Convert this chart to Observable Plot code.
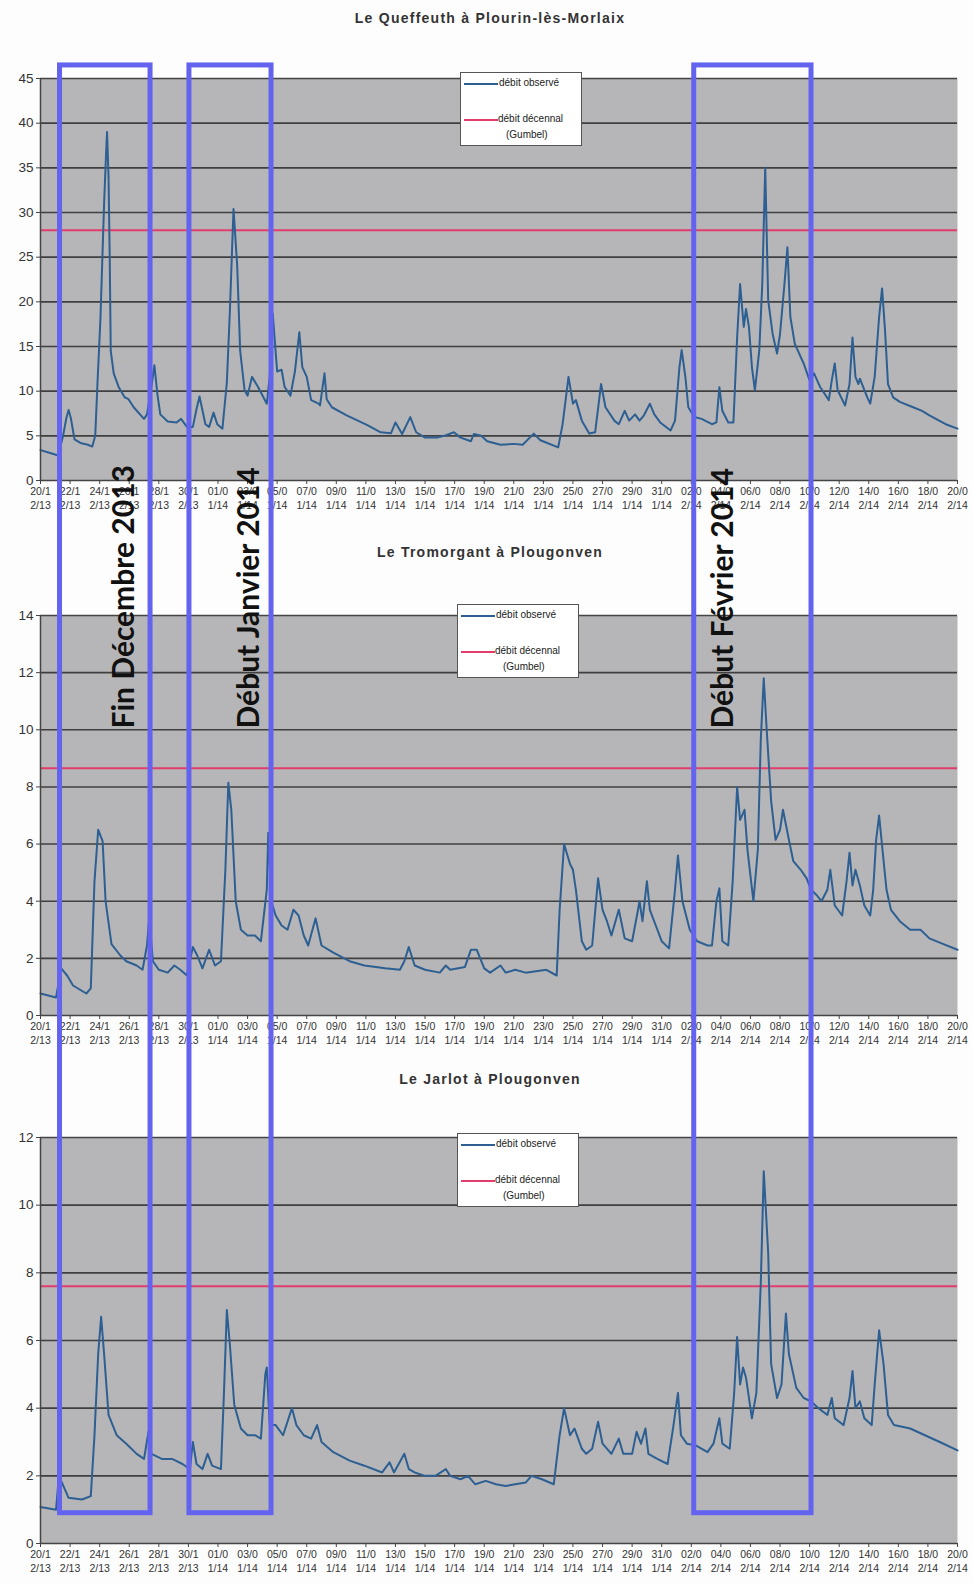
<!DOCTYPE html>
<html><head><meta charset="utf-8">
<script src="https://cdn.jsdelivr.net/npm/d3@7"></script>
<script src="https://cdn.jsdelivr.net/npm/@observablehq/plot@0.6"></script>
<style>
body{margin:0;background:#fff;}
#page{position:relative;width:973px;height:1584px;overflow:hidden;font-family:"Liberation Sans",Arial,sans-serif;background:#fdfdfd;}
.title{position:absolute;left:0;width:980px;text-align:center;font-weight:bold;font-size:14px;letter-spacing:1.25px;color:#333;}
.panel{position:absolute;left:0;}
.legend{position:absolute;background:#fff;border:1px solid #555;width:120px;height:72px;font-size:10px;color:#222;}
.legend svg{position:absolute;left:0;top:0;}
.legend span{position:absolute;white-space:nowrap;}
#overlay{position:absolute;left:0;top:0;pointer-events:none;}
</style></head><body><div id="page"></div>
<script>
// ---------- DATA ----------
const startDay = Date.UTC(2013, 11, 20);   // 20/12/2013
const endDay = Date.UTC(2014, 1, 20);      // 20/02/2014
const seriesName = "débit observé";
const thresholdName = "débit décennal";
const thresholdNote = "(Gumbel)";

const riverTitles = ["Le Queffeuth à Plourin-lès-Morlaix", "Le Tromorgant à Plougonven", "Le Jarlot à Plougonven"];
const decennialFlow = [28, 8.65, 7.6];
const yMaxima = [45, 14, 12];
const yTickSteps = [5, 2, 2];

// days since 20/12/2013 and observed flow (m3/s)
const queffeuthDays = [0,0.6,1.2,1.5,1.75,1.9,2.05,2.3,2.7,3.2,3.5,3.7,3.85,4.05,4.3,4.42,4.5,4.6,4.68,4.75,4.95,5.3,5.7,5.95,6.3,7.0,7.2,7.5,7.7,7.9,8.1,8.6,9.2,9.5,9.9,10.3,10.55,10.75,11.15,11.4,11.7,11.95,12.3,12.6,12.8,13.05,13.3,13.5,13.8,14.0,14.3,14.7,15.3,15.5,15.7,16.0,16.3,16.5,16.9,17.2,17.5,17.7,18.0,18.3,18.8,18.9,19.2,19.35,19.7,20.7,22.1,23.0,23.7,24.0,24.45,25.0,25.4,26.0,26.8,27.3,27.95,28.4,29.1,29.3,29.8,30.2,31.1,32.0,32.6,33.35,33.8,35.0,35.3,35.7,36.0,36.2,36.6,37.1,37.5,37.9,38.2,38.8,39.1,39.5,39.8,40.2,40.5,40.8,41.2,41.5,41.9,42.6,42.9,43.2,43.35,43.6,43.8,44.2,44.7,45.4,45.7,45.9,46.1,46.5,46.85,47.1,47.3,47.55,47.7,47.9,48.1,48.3,48.6,48.8,49.0,49.2,49.5,49.8,50.0,50.3,50.5,50.7,51.0,51.6,52.0,52.3,52.7,53.3,53.5,53.7,53.9,54.4,54.7,54.9,55.1,55.3,55.4,55.9,56.1,56.4,56.7,56.9,57.1,57.3,57.65,58.1,59.0,59.6,60.1,61.2,62.0];
const queffeuthFlow = [3.4,3.1,2.8,4.8,7.0,7.9,7.0,4.6,4.2,4.0,3.8,5.0,10.8,18,31,36,39,34,25,14.5,12,10.4,9.3,9.1,8.2,6.9,7.4,10.5,12.9,9.7,7.4,6.6,6.5,6.9,6.0,6.0,8.0,9.4,6.3,6.0,7.6,6.3,5.8,11.0,18.8,30.4,24,14.5,10.1,9.5,11.6,10.5,8.6,11.6,18.7,12.2,12.4,10.5,9.5,12.2,16.6,12.7,11.6,9.0,8.6,8.4,12.0,9.1,8.2,7.3,6.2,5.4,5.3,6.5,5.2,7.1,5.4,4.8,4.8,5.0,5.4,4.8,4.4,5.2,5.0,4.4,4.0,4.1,4.0,5.25,4.5,3.7,6.3,11.6,8.6,9.0,6.7,5.25,5.4,10.8,8.2,6.7,6.3,7.8,6.7,7.4,6.7,7.3,8.6,7.4,6.5,5.6,6.7,12.7,14.6,11.6,8.2,7.1,6.9,6.3,6.5,10.45,7.8,6.5,6.5,16.0,22.0,17.2,19.2,17.2,12.7,10.1,14.6,22,35.0,20.2,16.4,14.2,16.4,22,26.1,18.3,15.3,13.1,11.2,12.0,10.5,9.0,11.2,13.1,10.1,8.4,10.8,16.0,11.6,10.8,11.4,9.3,8.6,11.6,18.3,21.5,16.8,10.8,9.3,8.8,8.2,7.8,7.3,6.3,5.8];

const tromorgantDays = [0,1.05,1.4,1.8,2.2,3.1,3.4,3.65,3.9,4.2,4.4,4.8,5.4,5.8,6.5,6.9,7.2,7.35,7.6,8.0,8.6,9.05,9.45,9.9,10.3,10.6,10.95,11.4,11.8,12.2,12.5,12.7,12.9,13.2,13.55,14.0,14.5,14.9,15.3,15.4,15.6,15.9,16.3,16.7,17.1,17.45,17.8,18.1,18.6,19.0,19.8,20.9,21.9,23.3,24.3,24.6,24.9,25.3,26.0,27.0,27.4,27.7,28.7,29.1,29.5,30.0,30.4,31.1,31.45,32.1,32.8,34.2,34.9,35.1,35.4,35.8,36.0,36.2,36.6,36.9,37.3,37.7,38.0,38.3,38.6,39.1,39.5,40.0,40.4,40.5,40.7,41.0,41.2,41.6,42.0,42.5,42.9,43.1,43.4,43.9,44.4,45.1,45.4,45.7,45.9,46.1,46.5,46.8,47.1,47.3,47.6,47.8,48.2,48.5,48.7,48.9,49.1,49.4,49.7,50.0,50.2,50.6,50.9,51.4,51.8,52.1,52.5,52.8,53.2,53.4,53.7,54.2,54.5,54.7,54.9,55.1,55.4,55.7,56.1,56.3,56.5,56.7,56.9,57.2,57.5,58.1,58.8,59.5,60.1,60.8,62.0];
const tromorgantFlow = [0.77,0.63,1.65,1.4,1.05,0.77,0.95,4.7,6.5,6.1,4.0,2.5,2.1,1.9,1.75,1.6,2.45,3.4,1.9,1.6,1.5,1.75,1.6,1.4,2.4,2.1,1.65,2.3,1.75,1.9,5.1,8.15,7.2,4.0,3.0,2.8,2.8,2.6,4.4,6.4,4.0,3.5,3.15,3.0,3.7,3.5,2.8,2.45,3.4,2.45,2.2,1.9,1.75,1.65,1.6,1.9,2.4,1.75,1.6,1.5,1.75,1.6,1.7,2.3,2.3,1.65,1.5,1.75,1.5,1.6,1.5,1.6,1.4,3.7,6.0,5.3,5.1,4.4,2.6,2.3,2.45,4.8,3.7,3.3,2.8,3.7,2.7,2.6,3.7,4.0,3.3,4.7,3.7,3.15,2.6,2.35,4.4,5.6,4.0,3.0,2.6,2.45,2.45,4.0,4.45,2.6,2.45,4.7,8.0,6.85,7.2,5.8,4.0,5.8,9.65,11.8,10.0,7.5,6.15,6.5,7.2,6.15,5.4,5.1,4.8,4.4,4.2,4.0,4.4,5.1,3.85,3.5,4.7,5.7,4.55,5.1,4.55,3.85,3.5,4.4,6.15,7.0,5.95,4.4,3.7,3.3,3.0,3.0,2.7,2.55,2.3];

const jarlotDays = [0,1.05,1.25,1.5,1.9,2.8,3.4,3.65,3.9,4.1,4.3,4.6,5.15,5.8,6.5,7.0,7.3,7.5,8.2,8.9,9.6,10.1,10.3,10.55,10.95,11.3,11.6,12.2,12.4,12.6,12.8,13.1,13.55,14.0,14.5,14.9,15.2,15.3,15.5,15.9,16.4,17.0,17.3,17.8,18.3,18.7,19.0,19.8,20.9,21.9,23.1,23.6,23.9,24.6,24.9,25.3,26.0,26.7,27.4,27.7,28.4,28.9,29.4,30.1,30.8,31.45,32.1,32.8,33.2,33.9,34.7,35.1,35.4,35.8,36.1,36.6,36.9,37.3,37.7,38.0,38.6,39.1,39.4,40.0,40.3,40.6,40.9,41.1,41.7,42.4,42.8,43.1,43.3,43.7,44.3,45.1,45.5,45.9,46.1,46.6,46.9,47.1,47.3,47.5,47.7,48.1,48.4,48.7,48.9,49.2,49.4,49.8,50.1,50.4,50.6,51.1,51.6,52.1,52.6,53.2,53.5,53.7,54.3,54.7,54.9,55.1,55.4,55.7,56.2,56.4,56.7,57.0,57.3,57.7,58.8,59.8,60.8,62.0];
const jarlotFlow = [1.08,1.0,2.0,1.75,1.35,1.3,1.4,3.2,5.6,6.7,5.6,3.8,3.2,2.95,2.65,2.5,3.3,2.65,2.5,2.5,2.35,2.2,3.0,2.35,2.2,2.65,2.3,2.2,4.4,6.9,5.9,4.1,3.4,3.2,3.2,3.1,5.0,5.2,3.5,3.5,3.2,4.0,3.5,3.2,3.1,3.5,3.0,2.7,2.45,2.3,2.1,2.4,2.1,2.65,2.2,2.1,2.0,2.0,2.2,2.0,1.9,2.0,1.75,1.85,1.75,1.7,1.75,1.8,2.0,1.9,1.75,3.2,4.0,3.2,3.4,2.8,2.65,2.8,3.6,2.95,2.65,3.1,2.65,2.65,3.3,2.95,3.4,2.65,2.5,2.35,3.5,4.45,3.2,2.95,2.9,2.7,2.95,3.7,2.95,2.8,4.45,6.1,4.7,5.2,4.9,3.7,4.45,7.7,11.0,8.6,5.3,4.3,4.7,6.8,5.6,4.6,4.3,4.2,4.0,3.8,4.3,3.7,3.5,4.3,5.1,4.0,4.2,3.7,3.5,4.7,6.3,5.3,3.8,3.5,3.4,3.2,3.0,2.75];

// highlighted periods (days since 20/12/2013)
const periodLabels = ["Fin Décembre 2013", "Début Janvier 2014", "Début Février 2014"];
const periodStart = [1.32, 10.07, 44.2];
const periodEnd = [7.44, 15.62, 52.13];
const periodLabelDay = [5.68, 14.13, 46.18];

// ---------- BUILD ----------
const toDate = d => new Date(startDay + d * 864e5);
const series = [
  queffeuthDays.map((d, i) => ({date: toDate(d), flow: queffeuthFlow[i]})),
  tromorgantDays.map((d, i) => ({date: toDate(d), flow: tromorgantFlow[i]})),
  jarlotDays.map((d, i) => ({date: toDate(d), flow: jarlotFlow[i]}))
];
const xTicks = d3.range(0, 63, 2).map(toDate);
const fmt = d3.utcFormat("%d/%m/%y");
const tickFmt = d => { const s = fmt(d); return s.slice(0, 4) + "\n" + s.slice(4); };

const W = 973, ML = 40, MR = 16;
const layout = [
  {titleTop: 10, top: 68, mt: 10, ph: 402, legend: [460, 72]},
  {titleTop: 544, top: 605, mt: 10, ph: 400, legend: [457, 604]},
  {titleTop: 1071, top: 1127, mt: 10, ph: 406, legend: [457, 1133]}
];
const blue = "#2d5f92", red = "#e23c6c";
const page = document.getElementById("page");

layout.forEach((L, i) => {
  const t = document.createElement("div");
  t.className = "title"; t.style.top = L.titleTop + "px"; t.textContent = riverTitles[i];
  page.appendChild(t);

  const mb = 45;
  const chart = Plot.plot({
    width: W, height: L.mt + L.ph + mb,
    marginLeft: ML, marginRight: MR, marginTop: L.mt, marginBottom: mb,
    style: {background: "transparent", fontFamily: "Liberation Sans, Arial, sans-serif", color: "#333", overflow: "visible"},
    x: {type: "utc", domain: [new Date(startDay), new Date(endDay)]},
    y: {domain: [0, yMaxima[i]]},
    marks: [
      Plot.frame({fill: "#b6b6b8", stroke: null}),
      Plot.gridY(d3.range(yTickSteps[i], yMaxima[i] + 0.01, yTickSteps[i]), {stroke: "#2a2a2a", strokeOpacity: 0.85, strokeWidth: 1.6}),
      Plot.ruleY([decennialFlow[i]], {stroke: red, strokeWidth: 2}),
      Plot.line(series[i], {x: "date", y: "flow", stroke: blue, strokeWidth: 2, curve: "linear"}),
      Plot.ruleX([new Date(startDay)], {stroke: "#444", strokeWidth: 1.5}),
      Plot.ruleY([0], {stroke: "#444", strokeWidth: 1.5}),
      Plot.axisY(d3.range(0, yMaxima[i] + 0.01, yTickSteps[i]), {tickSize: 4, tickPadding: 3, fontSize: 13.5, label: null, stroke: "#444", fill: "#333"}),
      Plot.axisX(xTicks, {tickFormat: tickFmt, tickSize: 4, tickPadding: 1, fontSize: 10.5, lineHeight: 1.3, label: null, stroke: "#444", fill: "#333"})
    ]
  });
  const holder = document.createElement("div");
  holder.className = "panel"; holder.style.top = (L.top) + "px";
  holder.appendChild(chart);
  page.appendChild(holder);

  const lg = document.createElement("div");
  lg.className = "legend";
  lg.style.left = L.legend[0] + "px"; lg.style.top = L.legend[1] + "px";
  lg.innerHTML = `<svg width="120" height="72"><line x1="3" x2="37" y1="11" y2="11" stroke="${blue}" stroke-width="2"/><line x1="3" x2="37" y1="47" y2="47" stroke="${red}" stroke-width="2"/></svg>
  <span style="left:38px;top:4px">${seriesName}</span>
  <span style="left:37px;top:40px">${thresholdName}</span>
  <span style="left:45px;top:56px">${thresholdNote}</span>`;
  page.appendChild(lg);
});

// overlay of highlighted periods across the three charts
const periods = periodLabels.map((label, i) => ({label, x1: toDate(periodStart[i]), x2: toDate(periodEnd[i]), xl: toDate(periodLabelDay[i])}));
const overlay = Plot.plot({
  width: W, height: 1584, marginLeft: ML, marginRight: MR, marginTop: 0, marginBottom: 0,
  style: {background: "transparent", overflow: "visible"},
  x: {type: "utc", domain: [new Date(startDay), new Date(endDay)], axis: null},
  y: {domain: [0, 1], range: [0, 1584], axis: null},
  marks: [
    Plot.rect(periods, {x1: "x1", x2: "x2", y1: 0.041, y2: 0.955, fill: "none", stroke: "#6363f0", strokeWidth: 5}),
    Plot.text(periods, {x: "xl", y: 0.4596, text: "label", rotate: -90, textAnchor: "start", fontSize: 30, fontWeight: "bold", fontFamily: "Lato, 'Open Sans', sans-serif", fill: "#111"})
  ]
});
overlay.id = "overlay";
page.appendChild(overlay);
</script></body></html>
